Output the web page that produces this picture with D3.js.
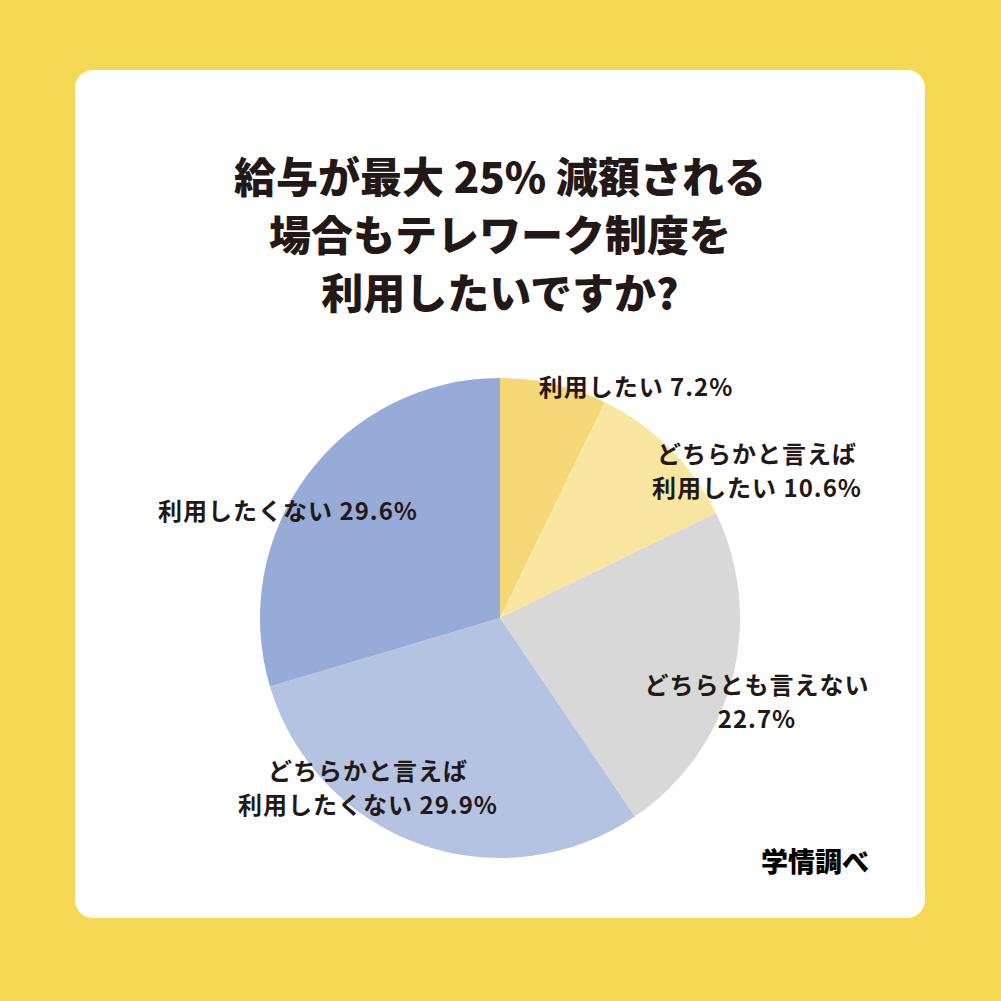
<!DOCTYPE html>
<html>
<head>
<meta charset="utf-8">
<script src="https://cdn.jsdelivr.net/npm/d3@7"></script>
<style>
  body { margin: 0; background: #f5d955; }
  svg { display: block; }
  text { font-family: "Noto Sans CJK JP", "Noto Sans", sans-serif; fill: #231815; }
</style>
</head>
<body>
<svg></svg>
<script>
const categories = ["利用したい", "どちらかと言えば利用したい", "どちらとも言えない", "どちらかと言えば利用したくない", "利用したくない"];
const values = [7.2, 10.6, 22.7, 29.9, 29.6];
const colors = ["#f5d878", "#f8e6a1", "#d9d8d9", "#b5c3e2", "#97abd8"];

// label lines per slice, and where they sit
const labelLines = [
  ["利用したい 7.2%"],
  ["どちらかと言えば", "利用したい 10.6%"],
  ["どちらとも言えない", "22.7%"],
  ["どちらかと言えば", "利用したくない 29.9%"],
  ["利用したくない 29.6%"]
];
const labelPos = [[636, 396], [757, 463], [757, 694], [368, 780], [288, 520]];

const titleLines = ["給与が最大 25% 減額される", "場合もテレワーク制度を", "利用したいですか?"];

const svg = d3.select("svg")
  .attr("width", 1001)
  .attr("height", 1001);

svg.append("rect")
  .attr("width", 1001).attr("height", 1001)
  .attr("fill", "#f5d955");

svg.append("rect")
  .attr("x", 75).attr("y", 70)
  .attr("width", 850).attr("height", 848)
  .attr("rx", 18)
  .attr("fill", "#ffffff");

// title
svg.append("g")
  .selectAll("text")
  .data(titleLines)
  .enter()
  .append("text")
  .attr("x", 500)
  .attr("y", (d, i) => 193 + i * 58)
  .attr("text-anchor", "middle")
  .attr("font-size", 42)
  .attr("font-weight", 900)
  .text(d => d);

const cx = 500, cy = 618, r = 240;

const pie = d3.pie().sort(null).value(d => d);
const arc = d3.arc().innerRadius(0).outerRadius(r);

const g = svg.append("g").attr("transform", `translate(${cx},${cy})`);

g.selectAll("path")
  .data(pie(values))
  .enter()
  .append("path")
  .attr("d", arc)
  .attr("fill", (d, i) => colors[i]);

// labels
const labels = svg.append("g");
labelLines.forEach((lines, i) => {
  const t = labels.append("text")
    .attr("text-anchor", "middle")
    .attr("font-size", 24)
    .attr("font-weight", 700)
    .attr("letter-spacing", 1);
  lines.forEach((line, j) => {
    t.append("tspan")
      .attr("x", labelPos[i][0])
      .attr("y", labelPos[i][1] + j * 34)
      .text(line);
  });
});

svg.append("text")
  .attr("x", 869)
  .attr("y", 872)
  .attr("text-anchor", "end")
  .attr("font-size", 27)
  .attr("font-weight", 900)
  .style("fill", "#000")
  .text("学情調べ");
</script>
</body>
</html>
